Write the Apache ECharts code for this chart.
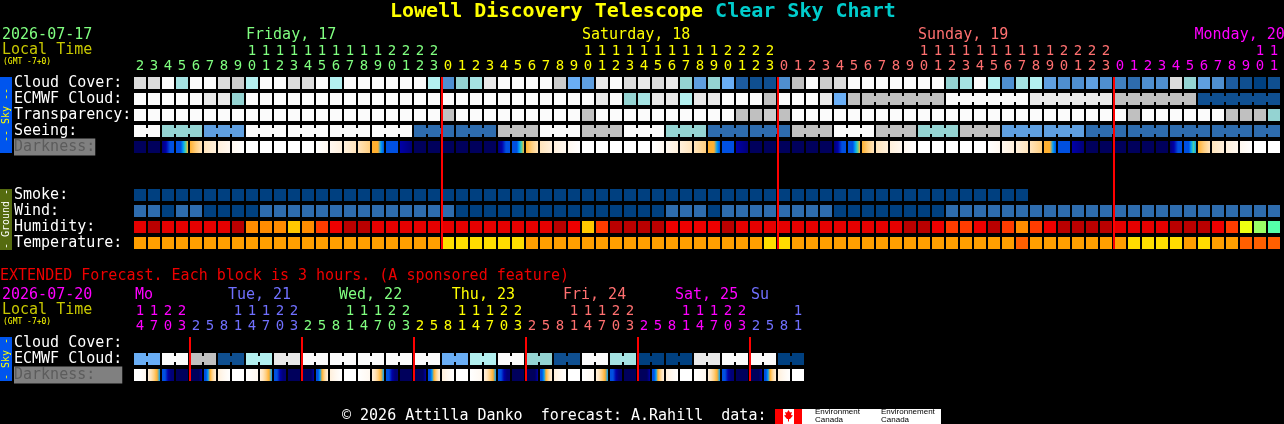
<!DOCTYPE html>
<html><head><meta charset="utf-8">
<style>html,body{margin:0;padding:0;background:#000}#c{width:1284px;height:424px}</style>
<script src="https://cdn.jsdelivr.net/npm/echarts@6/dist/echarts.min.js"></script>
</head><body><div id="c"></div>
<script>
const MONO='"DejaVu Sans Mono",monospace';
// ---- categories / ticks
const mainRows=['Cloud Cover:','ECMWF Cloud:','Transparency:','Seeing:','Darkness:','','','Smoke:','Wind:','Humidity:','Temperature:'];
const extRows=['Cloud Cover:','ECMWF Cloud:','Darkness:'];
const mainHours=[2,3,4,5,6,7,8,9,10,11,12,13,14,15,16,17,18,19,20,21,22,23,
 0,1,2,3,4,5,6,7,8,9,10,11,12,13,14,15,16,17,18,19,20,21,22,23,
 0,1,2,3,4,5,6,7,8,9,10,11,12,13,14,15,16,17,18,19,20,21,22,23,
 0,1,2,3,4,5,6,7,8,9,10,11];
const extHours=[14,17,20,23,2,5,8,11,14,17,20,23,2,5,8,11,14,17,20,23,2,5,8,11,14,17,20,23,2,5,8,11,14,17,20,23,2,5,8,11,14,17,20,23,2,5,8,11];
const mainDayStarts=[0,22,46,70];
const extDayStarts=[0,4,12,20,28,36,44];
const mainDayColors=['#80ff80','#ffff00','#ff7070','#ff00ff'];
const extDayColors=['#ff00ff','#7070ff','#80ff80','#ffff00','#ff7070','#ff00ff','#7070ff'];
const mainDayLabels=[['Friday, 17',8],['Saturday, 18',32],['Sunday, 19',56],['Monday, 20',75.75]];
const extDayLabels=[['Mo',0.07],['Tue, 21',6.71],['Wed, 22',14.64],['Thu, 23',22.7],['Fri, 24',30.64],['Sat, 25',38.64],['Su',44.07]];
const mainMidnights=[22,46,70];
const extMidnights=[4,12,20,28,36,44];
// ---- series values (levels into the palettes)
const cloudValues=[13,13,15,9,15,15,13,12,10,15,15,13,13,15,10,15,15,15,15,15,15,10,
 5,8,9,14,15,15,15,15,12,7,6,14,15,13,14,13,14,8,6,8,7,2,1,1,
 5,11,15,12,13,15,15,15,15,15,15,15,8,9,15,10,5,9,10,6,5,5,6,5,
 4,3,5,5,13,8,6,5,2,1,0,1];
const ecmwfSpans=[1,1,1,1,1,1,1,1,1,1,1,1,1,1,1,1,1,1,1,1,1,1,1,1,1,1,1,1,1,1,1,1,1,1,1,1,1,1,1,1,1,1,1,1,1,1,1,1,1,1,1,1,6,6,6,6,6];
const ecmwfValues=[15,15,15,15,15,14,14,8,15,15,15,15,15,15,15,15,15,15,15,15,15,15,15,15,15,15,15,15,15,15,15,15,15,14,15,8,9,14,14,10,14,14,15,15,15,11,15,15,15,14,7,11,11,15,14,11,1];
const transparencyValues=[15,15,15,15,15,15,15,15,15,15,15,15,15,15,15,15,15,15,15,15,15,15,
 11,15,15,15,15,15,15,15,15,15,11,15,15,15,15,15,15,15,15,15,15,11,11,12,
 11,15,15,15,15,15,15,15,15,15,15,15,15,15,15,15,15,15,15,15,15,15,15,15,
 15,11,15,15,15,15,15,15,11,11,11,8];
const seeingSpans=[2,3,3,3,3,3,3,3,3,3,3,3,3,3,3,3,3,3,3,3,3,3,3,3,3,3,3,2];
const seeingValues=[15,8,6,15,15,15,15,3,3,11,15,11,15,8,3,3,11,15,11,8,11,6,6,3,3,3,3,3];
const darknessMain=['00','00','1233','333456','678','89','9a','ab','bb','bb','bb','bb','bb','ba','a9','98','87','66643','33','21','00','00',
 '00','00','00','00','1233','333456','678','89','9a','ab','bb','bb','bb','bb','bb','ba','a9','98','87','66643','33','21','00','00',
 '00','00','00','00','1233','333456','678','89','9a','ab','bb','bb','bb','bb','bb','ba','a9','98','87','66643','33','21','00','00',
 '00','00','00','00','1233','333454','678','89','9a','ab','bb','bb'];
const smokeValues=[0,0,0,0,0,0,0,0,0,0,0,0,0,0,0,0,0,0,0,0,0,0,0,0,0,0,0,0,0,0,0,0,0,0,0,0,0,0,0,0,0,0,0,0,0,0,0,0,0,0,0,0,0,0,0,0,0,0,0,0,0,0,0,0];
const windValues=[3,3,0,3,3,0,0,0,0,3,3,3,3,3,3,3,3,3,3,3,3,3,
 3,0,0,0,0,0,0,0,0,0,0,0,0,0,0,0,3,3,3,0,3,3,3,3,
 3,3,3,3,0,0,0,0,0,0,0,0,3,3,3,3,3,3,3,3,3,3,3,3,
 3,3,3,3,3,3,3,3,3,3,3,3];
const humidityValues=[1,0,1,1,1,1,1,0,4,4,4,5,4,3,2,0,0,1,1,1,1,1,
 1,1,1,1,1,1,1,1,0,2,5,3,0,0,0,0,2,2,2,2,0,1,1,1,
 1,1,1,1,1,1,1,1,1,0,0,2,3,3,2,0,3,4,3,2,0,0,0,0,
 1,1,1,1,0,0,0,2,3,6,7,8];
const temperatureValues=[1,1,1,1,1,1,1,1,1,1,1,1,1,1,1,1,1,1,1,1,1,1,
 2,2,2,2,2,2,1,1,1,1,1,1,1,1,1,1,1,1,1,1,1,1,1,2,
 2,1,1,1,1,1,1,1,1,1,1,1,1,1,1,1,1,0,1,1,1,1,1,1,
 1,2,2,2,2,1,2,1,1,0,0,0];
const extSpans=[2,2,2,2,2,2,2,2,2,2,2,2,2,2,2,2,2,2,2,2,2,2,2,2];
const extEcmwfValues=[7,15,11,1,10,14,15,15,15,15,15,7,10,15,8,1,15,9,0,0,14,15,15,0];
const darknessExt=['bba','98764','33211','00','00002','3346789','9ab','bb','ba','98764','33211','00','00002','3346789','9ab','bb','ba','98764','33211','00','00002','3346789','9ab','bb',
 'ba','98764','33211','00','00002','3346789','9ab','bb','ba','98764','33211','00','00002','3346789','9ab','bb','ba','98764','33211','00','00002','3346789','9ab','bb'];
// ---- palettes
const skyPalette=['#004080','#0f4f90','#1c5ba0','#2e6cae','#4080c0','#4f8fd0','#5f9fe0','#6aaef5','#94d3d2','#a5e3e3','#b3f0f0','#c0c0c0','#cccccc','#dcdcdc','#e9e9e9','#fbfbfb'];
const darkPalette={0:'#00005c',1:'#000078',2:'#0000a8',3:'#0050e0',4:'#00a0f8',5:'#50d0a0',6:'#ffb030',7:'#ffcf80',8:'#ffe4bc',9:'#fff0dc',a:'#fff8f0',b:'#ffffff'};
const humidityPalette=['#b90000','#e60000','#ee0000','#ff3c00','#ff8c00','#ffc800','#eeff11','#99ff66','#55ffaa'];
const tempPalette=['#ff5f00','#ff9f00','#ffdd00'];

const CELL=12, LINK=6;
function singles(vals){return vals.map(()=>1);}
function blockList(row,spans,vals,pal){
  let col=0;return spans.map((s,i)=>{const b=[col,row,s,pal[vals[i]]];col+=s;return b;});
}
function cellSeries(name,xi,yi,blocks){
  return {type:'custom',name,xAxisIndex:xi,yAxisIndex:yi,silent:true,z:2,data:blocks.map(b=>[b[0],b[1]]),encode:{x:0,y:1},
    renderItem(params,api){
      const b=blocks[params.dataIndex];const p=api.coord([b[0],b[1]]);const w=api.size([1,0])[0];
      const x0=p[0]-CELL/2,y0=p[1]-CELL/2;const children=[];
      for(let k=0;k<b[2];k++){
        children.push({type:'rect',shape:{x:x0+k*w,y:y0,width:CELL,height:CELL},style:{fill:b[3]}});
        if(k<b[2]-1)children.push({type:'rect',shape:{x:x0+k*w+CELL,y:y0+(CELL-LINK)/2,width:w-CELL,height:LINK},style:{fill:b[3]}});
      }
      return {type:'group',children};
    }};
}
function darkSeries(name,xi,yi,row,cells){
  return {type:'custom',name,xAxisIndex:xi,yAxisIndex:yi,silent:true,z:2,data:cells.map((c,i)=>[i,row]),encode:{x:0,y:1},
    renderItem(params,api){
      const s=cells[params.dataIndex];const p=api.coord([params.dataIndex,row]);
      const stops=s.split('').map((ch,i)=>({offset:i/(s.length-1),color:darkPalette[ch]}));
      return {type:'rect',shape:{x:p[0]-CELL/2,y:p[1]-CELL/2,width:CELL,height:CELL},style:{fill:new echarts.graphic.LinearGradient(0,0,1,0,stops)}};
    }};
}
function redLines(xi,yi,cols,lastRow){
  return {type:'custom',name:'Midnight',xAxisIndex:xi,yAxisIndex:yi,silent:true,z:5,data:cols.map(c=>[c,0]),encode:{x:0,y:1},
    renderItem(params,api){
      const a=api.coord([api.value(0),0]),b=api.coord([api.value(0),lastRow]);const w=api.size([1,0])[0];
      return {type:'rect',shape:{x:a[0]-w/2,y:a[1]-CELL/2,width:2,height:b[1]-a[1]+CELL},style:{fill:'#ff0000'}};
    }};
}
function dayText(xi,yi,labels,colors,up){
  return {type:'custom',name:'Days',xAxisIndex:xi,yAxisIndex:yi,silent:true,z:5,data:labels.map(()=>[0,0]),encode:{x:0,y:1},
    renderItem(params,api){
      const l=labels[params.dataIndex];const p=api.coord([0,0]);const w=api.size([1,0])[0];
      return {type:'text',style:{text:l[0],x:p[0]-CELL/2+l[1]*w,y:p[1]-up,fill:colors[params.dataIndex],font:'15px '+MONO,verticalAlign:'middle',align:'left'}};
    }};
}
function colorOf(i,starts,colors){let k=0;starts.forEach((s,j)=>{if(i>=s)k=j;});return colors[k];}
function hourAxis(grid,data,off,digit,starts,colors,margin){
  return {type:'category',gridIndex:grid,position:'top',offset:off,data:data.map(h=>digit==='ones'?String(h%10):(h>=10?String(Math.floor(h/10)):'')),
    axisLine:{show:false},axisTick:{show:false},splitLine:{show:false},
    axisLabel:{interval:0,margin,hideOverlap:false,fontFamily:MONO,fontSize:14,color:(v,i)=>colorOf(i,starts,colors)}};
}
function rowAxis(grid,rows,darkPad){
  return {type:'category',gridIndex:grid,inverse:true,axisLine:{show:false},axisTick:{show:false},splitLine:{show:false},
    data:rows.map(r=>r==='Darkness:'?{value:r,textStyle:{align:'left',fontFamily:MONO,fontSize:15,color:'#5c5c5c',backgroundColor:'#808080',padding:[1,darkPad,1,0]}}:r),
    axisLabel:{interval:0,align:'left',margin:119,fontFamily:MONO,fontSize:15,color:'#ffffff',hideOverlap:false}};
}
function txt(text,x,y,fill,size,extra){return Object.assign({type:'text',x,y,silent:true,style:{text,fill,font:size+'px '+MONO,verticalAlign:'middle',align:'left'}},extra||{});}
function box(x,y,w,h,fill){return {type:'rect',x,y,silent:true,shape:{width:w,height:h},style:{fill}};}
function vert(text,cx,cy,fill,size){return {type:'text',x:cx,y:cy,rotation:Math.PI/2,silent:true,style:{text,fill,font:size+'px '+MONO,align:'center',verticalAlign:'middle'}};}

const sans='"Liberation Sans",sans-serif';
const option={
  backgroundColor:'#000000',animation:false,
  title:{text:'{a|Lowell Discovery Telescope }{b|Clear Sky Chart}',left:390,top:0,padding:[2,0,0,0],textStyle:{rich:{
    a:{fontFamily:MONO,fontSize:20,fontWeight:'bold',color:'#ffff00'},b:{fontFamily:MONO,fontSize:20,fontWeight:'bold',color:'#00cccc'}}}},
  grid:[{left:133,top:75,width:1148,height:176,outerBoundsMode:'none'},{left:133,top:335,width:672,height:48,outerBoundsMode:'none'}],
  xAxis:[
    hourAxis(0,mainHours,0,'ones',mainDayStarts,mainDayColors,2),
    hourAxis(0,mainHours,15,'tens',mainDayStarts,mainDayColors,2),
    hourAxis(1,extHours,0,'ones',extDayStarts,extDayColors,2),
    hourAxis(1,extHours,15,'tens',extDayStarts,extDayColors,2)
  ],
  yAxis:[rowAxis(0,mainRows,0),rowAxis(1,extRows,27)],
  series:[
    cellSeries('Cloud Cover',0,0,blockList(0,singles(cloudValues),cloudValues,skyPalette)),
    cellSeries('ECMWF Cloud',0,0,blockList(1,ecmwfSpans,ecmwfValues,skyPalette)),
    cellSeries('Transparency',0,0,blockList(2,singles(transparencyValues),transparencyValues,skyPalette)),
    cellSeries('Seeing',0,0,blockList(3,seeingSpans,seeingValues,skyPalette)),
    darkSeries('Darkness',0,0,4,darknessMain),
    cellSeries('Smoke',0,0,blockList(7,singles(smokeValues),smokeValues,skyPalette)),
    cellSeries('Wind',0,0,blockList(8,singles(windValues),windValues,skyPalette)),
    cellSeries('Humidity',0,0,blockList(9,singles(humidityValues),humidityValues,humidityPalette)),
    cellSeries('Temperature',0,0,blockList(10,singles(temperatureValues),temperatureValues,tempPalette)),
    redLines(0,0,mainMidnights,10),
    dayText(0,0,mainDayLabels,mainDayColors,47.5),
    cellSeries('ECMWF Cloud (extended)',2,1,blockList(1,extSpans,extEcmwfValues,skyPalette)),
    darkSeries('Darkness (extended)',2,1,2,darknessExt),
    redLines(2,1,extMidnights,2),
    dayText(2,1,extDayLabels,extDayColors,47.5)
  ],
  graphic:[
    txt('2026-07-17',2,35,'#80ff80',15),
    txt('Local Time',2,50,'#c8c800',15),
    txt('(GMT -7+0)',3,62,'#ffff00',8),
    box(0,77,12,76,'#0055ee'),vert('-- Sky --',6,115,'#ffff00',10),
    box(0,189,12,61,'#556b0f'),vert('- Ground -',6,219,'#ffffff',10),
    txt('EXTENDED Forecast. Each block is 3 hours. (A sponsored feature)',0,276,'#ee0000',15),
    txt('2026-07-20',2,295,'#ff00ff',15),
    txt('Local Time',2,310,'#c8c800',15),
    txt('(GMT -7+0)',3,322,'#ffff00',8),
    box(0,337,12,44,'#0055ee'),vert('- Sky -',6,359,'#ffff00',10),
    txt('\u00a9 2026 Attilla Danko  forecast: A.Rahill  data:',342,416,'#ffffff',15),
    box(775,409,166,15,'#ffffff'),
    box(775,409,8,15,'#ff0000'),box(794,409,8,15,'#ff0000'),
    {type:'polygon',silent:true,shape:{points:[[788.5,410],[790,412.5],[792,412],[791,415],[793,415.5],[790,419],[789,419],[789,421.5],[788,421.5],[788,419],[787,419],[784,415.5],[786,415],[785,412],[787,412.5]]},style:{fill:'#ff0000'}},
    {type:'text',x:815,y:412,silent:true,style:{text:'Environment',fill:'#000',font:'8px '+sans,verticalAlign:'middle'}},
    {type:'text',x:815,y:420,silent:true,style:{text:'Canada',fill:'#000',font:'8px '+sans,verticalAlign:'middle'}},
    {type:'text',x:881,y:412,silent:true,style:{text:'Environnement',fill:'#000',font:'8px '+sans,verticalAlign:'middle'}},
    {type:'text',x:881,y:420,silent:true,style:{text:'Canada',fill:'#000',font:'8px '+sans,verticalAlign:'middle'}}
  ]
};
echarts.init(document.getElementById('c'),null,{renderer:'canvas'}).setOption(option);
</script></body></html>
